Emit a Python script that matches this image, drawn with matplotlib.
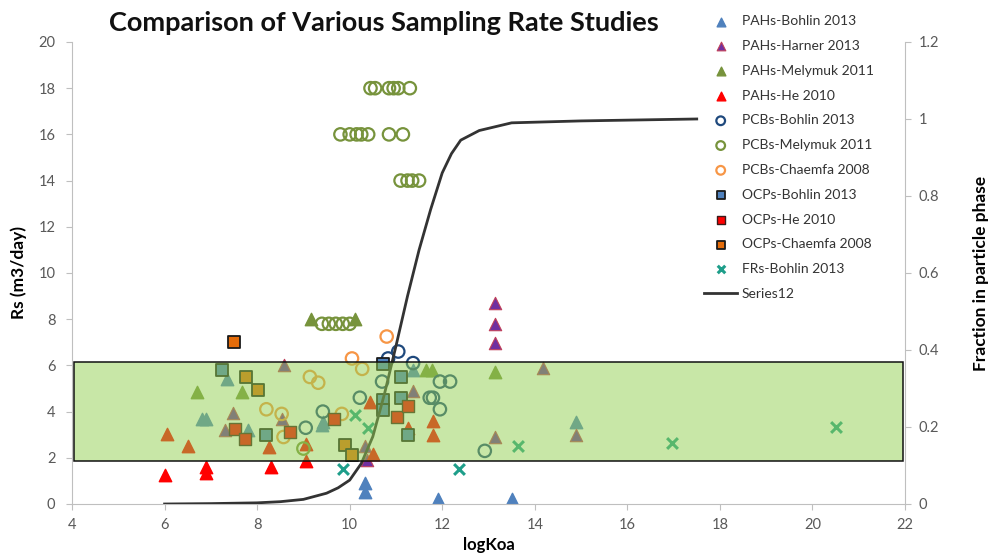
import matplotlib.pyplot as plt
from matplotlib.patches import Rectangle

plt.rcParams['font.family'] = ['Lato', 'DejaVu Sans']

# sampling rates (m3/day) against logKoa, one pair of lists per study
pah_bohlin_x = [10.33, 10.33, 11.9, 13.5, 6.8, 6.9, 7.35, 7.8, 9.42, 9.4, 11.37, 14.9]
pah_bohlin_y = [0.9, 0.5, 0.2, 0.2, 3.7, 3.7, 5.4, 3.2, 3.55, 3.4, 5.8, 3.55]
pah_harner_x = [13.15, 13.15, 13.15, 14.18, 14.9, 13.15, 7.48, 7.3, 8.57, 8.53, 10.33, 10.37, 11.37]
pah_harner_y = [8.7, 7.8, 6.95, 5.9, 3.0, 2.9, 3.95, 3.2, 6.0, 3.7, 2.5, 1.9, 4.9]
pah_melymuk_x = [9.16, 10.12, 6.7, 7.67, 11.66, 11.77, 13.15]
pah_melymuk_y = [8.0, 8.0, 4.85, 4.85, 5.8, 5.8, 5.7]
pah_he_x = [6.0, 6.9, 6.9, 8.3, 9.05, 6.05, 6.5, 8.25, 9.05, 10.45, 10.5, 11.25, 11.8, 11.8]
pah_he_y = [1.25, 1.6, 1.35, 1.6, 1.85, 3.05, 2.5, 2.45, 2.6, 4.4, 2.15, 3.3, 3.6, 3.0]

pcb_bohlin_x = [10.83, 11.05, 11.37, 10.7, 10.22, 11.73, 11.8, 11.95, 11.95, 12.17, 12.92, 9.42, 9.05]
pcb_bohlin_y = [6.3, 6.6, 6.1, 5.3, 4.6, 4.6, 4.6, 4.1, 5.3, 5.3, 2.3, 4.0, 3.3]
pcb_melymuk_x = [10.45, 10.55, 10.85, 10.95, 11.05, 11.3,
                 9.8, 10.0, 10.15, 10.25, 10.4, 10.85, 11.15,
                 11.1, 11.25, 11.35, 11.5,
                 9.4, 9.55, 9.7, 9.85, 10.0, 9.0]
pcb_melymuk_y = [18, 18, 18, 18, 18, 18,
                 16, 16, 16, 16, 16, 16, 16,
                 14, 14, 14, 14,
                 7.8, 7.8, 7.8, 7.8, 7.8, 2.4]
pcb_chaemfa_x = [10.8, 10.05, 10.27, 9.14, 9.32, 8.2, 8.53, 8.57, 9.83]
pcb_chaemfa_y = [7.25, 6.3, 5.85, 5.5, 5.25, 4.1, 3.9, 2.9, 3.9]

ocp_bohlin_x = [7.25, 8.2, 10.72, 10.72, 10.72, 11.1, 11.1, 11.25]
ocp_bohlin_y = [5.8, 3.0, 6.05, 4.5, 4.05, 5.5, 4.6, 3.0]
ocp_he_x = [7.52, 7.74, 8.71, 9.66, 11.02, 11.26]
ocp_he_y = [3.25, 2.8, 3.1, 3.7, 3.75, 4.25]
ocp_chaemfa_x = [7.5, 7.77, 8.02, 9.9, 10.05]
ocp_chaemfa_y = [7.0, 5.5, 4.95, 2.55, 2.1]

fr_bohlin_x = [9.86, 12.37, 13.64, 16.96, 20.5, 10.12, 10.4]
fr_bohlin_y = [1.5, 1.5, 2.5, 2.65, 3.35, 3.85, 3.3]

# fraction in particle phase along logKoa
frac_x = [6.0, 7.0, 8.0, 8.5, 9.0, 9.5, 9.75, 10.0, 10.25, 10.5, 10.75, 11.0, 11.25, 11.5, 11.75,
          12.0, 12.2, 12.4, 12.8, 13.5, 15.0, 17.5]
frac_y = [0.0, 0.001, 0.003, 0.006, 0.012, 0.028, 0.042, 0.062, 0.105, 0.175, 0.285, 0.41, 0.54,
          0.66, 0.765, 0.86, 0.91, 0.945, 0.97, 0.99, 0.995, 1.0]

# typical Rs band
band_lo, band_hi = 1.85, 6.15

fig = plt.figure(figsize=(9.95, 5.59), dpi=100)
ax = fig.add_axes([0.0724, 0.0984, 0.8371, 0.8265])
ax2 = ax.twinx()

ms = 80
ax.scatter(pah_bohlin_x, pah_bohlin_y, s=ms, marker='^', color='#4F81BD', label='PAHs-Bohlin 2013')
ax.scatter(pah_harner_x, pah_harner_y, s=ms, marker='^', color='#7030A0', edgecolors='#C0405A',
           linewidths=0.8, label='PAHs-Harner 2013')
ax.scatter(pah_melymuk_x, pah_melymuk_y, s=ms, marker='^', color='#77933C', label='PAHs-Melymuk 2011')
ax.scatter(pah_he_x, pah_he_y, s=ms, marker='^', color='#FF0000', label='PAHs-He 2010')
ax.scatter(pcb_bohlin_x, pcb_bohlin_y, s=ms, marker='o', facecolors='none', edgecolors='#1F497D',
           linewidths=1.6, label='PCBs-Bohlin 2013')
ax.scatter(pcb_melymuk_x, pcb_melymuk_y, s=ms, marker='o', facecolors='none', edgecolors='#77933C',
           linewidths=1.6, label='PCBs-Melymuk 2011')
ax.scatter(pcb_chaemfa_x, pcb_chaemfa_y, s=ms, marker='o', facecolors='none', edgecolors='#F79646',
           linewidths=1.6, label='PCBs-Chaemfa 2008')
ax.scatter(ocp_bohlin_x, ocp_bohlin_y, s=ms, marker='s', color='#4F81BD', edgecolors='#1A1A1A',
           linewidths=1.3, label='OCPs-Bohlin 2013')
ax.scatter(ocp_he_x, ocp_he_y, s=ms, marker='s', color='#FF0000', edgecolors='#3A1A1A',
           linewidths=1.0, label='OCPs-He 2010')
ax.scatter(ocp_chaemfa_x, ocp_chaemfa_y, s=ms, marker='s', color='#E46C0A', edgecolors='#1A1A1A',
           linewidths=1.3, label='OCPs-Chaemfa 2008')
ax.scatter(fr_bohlin_x, fr_bohlin_y, s=60, marker='x', color='#1E9E8A', linewidths=2.2,
           label='FRs-Bohlin 2013')

ax2.plot(frac_x, frac_y, color='#333333', lw=2.0, label='Series12')

# translucent band laid over every series
ax2.add_patch(Rectangle((4.05, band_lo), 21.95 - 4.05, band_hi - band_lo, transform=ax.transData,
                        facecolor='#92D050', alpha=0.5, edgecolor='none', zorder=5))
ax2.add_patch(Rectangle((4.05, band_lo), 21.95 - 4.05, band_hi - band_lo, transform=ax.transData,
                        facecolor='none', edgecolor='#111111', lw=1.1, zorder=6))

ax.set_xlim(4, 22)
ax.set_ylim(0, 20)
ax2.set_ylim(0, 1.2)
ax.set_xticks(range(4, 23, 2))
ax.set_yticks(range(0, 21, 2))
ax2.set_yticks([0, 0.2, 0.4, 0.6, 0.8, 1.0, 1.2])
ax2.set_yticklabels(['0', '0.2', '0.4', '0.6', '0.8', '1', '1.2'])

for a in (ax, ax2):
    a.spines['top'].set_visible(False)
    for side in ('left', 'bottom', 'right'):
        a.spines[side].set_color('#BFBFBF')
    a.tick_params(colors='#BFBFBF', labelcolor='#595959', labelsize=10.5, length=4)
ax.spines['right'].set_visible(False)
ax2.spines['left'].set_visible(False)
ax2.spines['bottom'].set_visible(False)
ax.tick_params(axis='x', pad=6)
ax.tick_params(axis='y', pad=8)
ax2.tick_params(axis='y', pad=6)

ax.set_xlabel('logKoa', fontsize=12, fontweight='bold', labelpad=4)
ax.set_ylabel('Rs (m3/day)', fontsize=12.5, fontweight='bold', labelpad=8)
ax2.set_ylabel('Fraction in particle phase', fontsize=12.5, fontweight='bold', labelpad=24)

fig.text(0.386, 0.958, 'Comparison of Various Sampling Rate Studies', fontsize=19.5,
         fontweight='bold', ha='center', va='center', color='#111111')

h1, l1 = ax.get_legend_handles_labels()
h2, l2 = ax2.get_legend_handles_labels()
fig.legend(h1 + h2, l1 + l2, loc='upper left', bbox_to_anchor=(0.695, 0.995), frameon=False,
           fontsize=10, markerscale=0.7, labelspacing=0.92, handlelength=2.4, handletextpad=0.3,
           labelcolor='#333333')

fig.savefig('out.png', dpi=100)
